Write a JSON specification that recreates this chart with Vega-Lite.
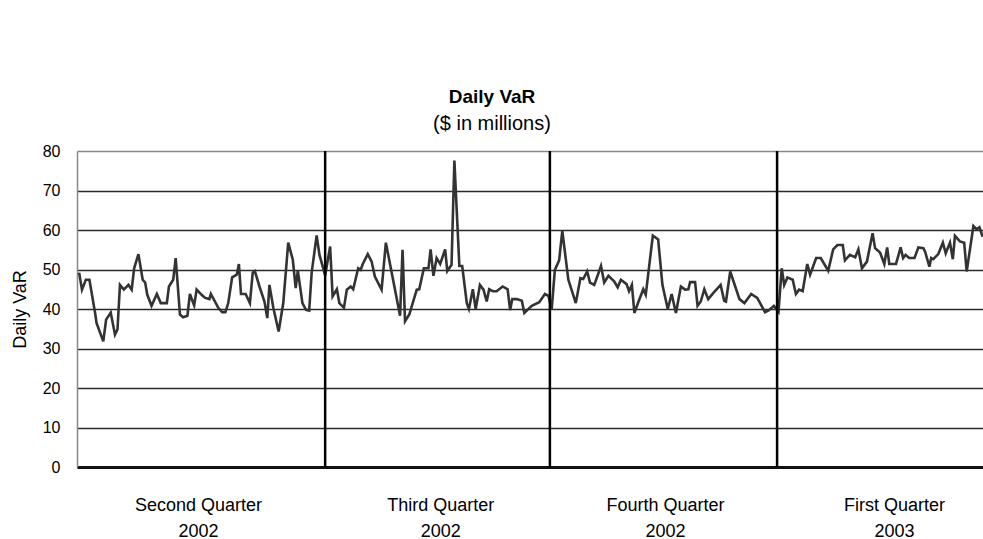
{
  "$schema": "https://vega.github.io/schema/vega-lite/v6.json",
  "autosize": {"type": "none"},
  "padding": {"left": 77, "top": 151, "right": 0, "bottom": 72},
  "width": 906,
  "height": 316,
  "background": "white",
  "title": {
    "text": "Daily VaR",
    "subtitle": "($ in millions)",
    "anchor": "middle",
    "dx": -38,
    "offset": 9,
    "font": "Liberation Sans",
    "fontSize": 19,
    "fontWeight": "bold",
    "color": "#000000",
    "subtitleFont": "Liberation Sans",
    "subtitleFontSize": 20,
    "subtitleColor": "#000000",
    "subtitlePadding": 7
  },
  "datasets": {
    "var": [
      {"d":0.6,"v":49.2},{"d":1.4,"v":44.9},{"d":2.5,"v":47.4},{"d":3.5,"v":47.4},{"d":5.1,"v":39.0},{"d":5.5,"v":36.5},{"d":7.4,"v":31.8},{"d":8.2,"v":37.3},{"d":9.5,"v":39.1},{"d":10.7,"v":33.5},{"d":11.4,"v":34.8},{"d":12.1,"v":46.1},{"d":13.2,"v":44.9},{"d":14.5,"v":46.1},{"d":15.4,"v":44.9},{"d":16.1,"v":50.3},{"d":17.3,"v":53.9},{"d":18.5,"v":47.4},{"d":19.2,"v":46.7},{"d":19.8,"v":43.6},{"d":21.0,"v":40.8},{"d":22.5,"v":43.8},{"d":23.6,"v":41.5},{"d":25.3,"v":41.5},{"d":25.9,"v":45.7},{"d":27.1,"v":47.4},{"d":27.8,"v":52.9},{"d":29.0,"v":38.6},{"d":29.9,"v":37.9},{"d":31.1,"v":38.3},{"d":31.8,"v":43.8},{"d":33.0,"v":40.9},{"d":33.7,"v":44.9},{"d":35.1,"v":43.6},{"d":36.1,"v":42.8},{"d":37.3,"v":42.5},{"d":37.7,"v":43.8},{"d":38.6,"v":42.3},{"d":39.8,"v":40.3},{"d":40.9,"v":39.2},{"d":41.8,"v":39.2},{"d":42.6,"v":41.5},{"d":43.7,"v":48.0},{"d":45.0,"v":48.7},{"d":45.6,"v":51.4},{"d":46.2,"v":43.8},{"d":47.5,"v":43.8},{"d":48.7,"v":41.5},{"d":49.5,"v":49.2},{"d":50.1,"v":49.6},{"d":51.4,"v":45.7},{"d":52.8,"v":41.9},{"d":53.6,"v":37.7},{"d":54.2,"v":46.1},{"d":55.3,"v":40.3},{"d":56.8,"v":34.3},{"d":58.1,"v":41.5},{"d":59.5,"v":56.8},{"d":60.8,"v":52.4},{"d":61.6,"v":45.3},{"d":62.2,"v":49.7},{"d":63.5,"v":41.5},{"d":64.5,"v":39.8},{"d":65.4,"v":39.6},{"d":66.1,"v":49.2},{"d":67.5,"v":58.6},{"d":68.3,"v":53.7},{"d":69.9,"v":48.5},{"d":71.3,"v":55.8},
      {"d":72.0,"v":43.2},{"d":73.2,"v":45.0},{"d":73.9,"v":41.5},{"d":75.2,"v":40.3},{"d":76.0,"v":44.9},{"d":77.1,"v":45.7},{"d":77.8,"v":45.0},{"d":79.2,"v":50.3},{"d":79.9,"v":49.9},{"d":80.5,"v":51.4},{"d":81.9,"v":53.9},{"d":83.0,"v":52.0},{"d":83.9,"v":48.2},{"d":85.8,"v":44.9},{"d":87.0,"v":56.8},{"d":91.0,"v":38.3},{"d":91.7,"v":55.0},{"d":92.4,"v":36.9},{"d":93.6,"v":38.6},{"d":95.7,"v":44.9},{"d":96.4,"v":45.0},{"d":97.7,"v":50.3},{"d":99.0,"v":50.3},{"d":99.6,"v":55.1},{"d":100.4,"v":48.4},{"d":101.3,"v":52.9},{"d":102.3,"v":51.4},{"d":103.7,"v":55.1},{"d":104.3,"v":49.6},{"d":105.5,"v":51.2},{"d":106.3,"v":77.6},{"d":107.7,"v":50.9},{"d":108.5,"v":50.9},{"d":109.8,"v":41.5},{"d":110.4,"v":40.0},{"d":111.5,"v":45.0},{"d":112.3,"v":40.0},{"d":113.5,"v":46.1},{"d":114.5,"v":44.9},{"d":115.4,"v":41.9},{"d":116.1,"v":45.0},{"d":117.1,"v":44.5},{"d":118.2,"v":44.5},{"d":119.9,"v":45.7},{"d":121.3,"v":45.0},{"d":122.0,"v":39.7},{"d":122.6,"v":42.5},{"d":123.9,"v":42.5},{"d":125.3,"v":42.1},{"d":126.0,"v":39.0},{"d":128.1,"v":40.8},{"d":130.2,"v":41.7},{"d":131.8,"v":43.8},{"d":132.8,"v":43.3},{"d":133.7,"v":39.8},
      {"d":134.6,"v":49.9},{"d":135.8,"v":52.3},{"d":136.7,"v":59.8},{"d":138.4,"v":47.4},{"d":140.5,"v":41.5},{"d":141.8,"v":47.8},{"d":142.6,"v":47.6},{"d":143.7,"v":49.5},{"d":144.5,"v":46.7},{"d":145.7,"v":46.1},{"d":147.6,"v":50.9},{"d":148.5,"v":46.7},{"d":149.7,"v":48.4},{"d":151.3,"v":47.0},{"d":152.3,"v":45.5},{"d":153.2,"v":47.4},{"d":154.8,"v":46.3},{"d":155.5,"v":44.5},{"d":156.3,"v":46.1},{"d":157.0,"v":39.0},{"d":158.1,"v":41.7},{"d":159.5,"v":45.0},{"d":160.2,"v":43.6},{"d":162.2,"v":58.6},{"d":163.7,"v":57.6},{"d":164.9,"v":46.1},{"d":166.4,"v":40.0},{"d":167.5,"v":43.8},{"d":168.7,"v":39.0},{"d":170.1,"v":45.7},{"d":171.3,"v":44.9},{"d":172.2,"v":45.0},{"d":172.7,"v":46.8},{"d":174.1,"v":46.8},{"d":174.8,"v":40.8},{"d":175.7,"v":41.9},{"d":176.7,"v":45.0},{"d":177.8,"v":42.5},{"d":179.2,"v":44.0},{"d":181.3,"v":46.1},{"d":182.3,"v":42.1},{"d":182.8,"v":41.9},{"d":184.0,"v":49.5},{"d":186.6,"v":42.5},{"d":188.0,"v":41.5},{"d":189.9,"v":43.8},{"d":191.6,"v":42.8},{"d":193.8,"v":39.2},{"d":194.9,"v":39.7},{"d":196.3,"v":40.8},{"d":197.6,"v":39.3},
      {"d":198.5,"v":50.3},{"d":199.2,"v":46.1},{"d":200.1,"v":48.0},{"d":201.6,"v":47.4},{"d":202.5,"v":43.8},{"d":203.4,"v":44.9},{"d":204.4,"v":44.5},{"d":205.7,"v":51.4},{"d":206.5,"v":48.7},{"d":208.2,"v":52.9},{"d":209.5,"v":52.9},{"d":211.6,"v":49.7},{"d":213.0,"v":55.1},{"d":214.2,"v":56.2},{"d":215.7,"v":56.2},{"d":216.3,"v":52.3},{"d":217.7,"v":53.7},{"d":219.2,"v":53.1},{"d":220.1,"v":55.1},{"d":221.1,"v":50.3},{"d":222.5,"v":52.0},{"d":224.1,"v":59.2},{"d":224.8,"v":55.4},{"d":226.2,"v":54.3},{"d":227.4,"v":51.4},{"d":228.2,"v":55.6},{"d":228.8,"v":51.4},{"d":230.7,"v":51.4},{"d":232.0,"v":55.6},{"d":232.7,"v":52.9},{"d":233.4,"v":53.7},{"d":234.4,"v":52.9},{"d":235.9,"v":52.9},{"d":237.0,"v":55.6},{"d":238.4,"v":55.4},{"d":238.9,"v":54.5},{"d":240.1,"v":50.7},{"d":240.6,"v":52.9},{"d":241.2,"v":52.6},{"d":242.6,"v":53.9},{"d":243.9,"v":56.8},{"d":244.7,"v":54.1},{"d":245.9,"v":56.8},{"d":246.7,"v":52.6},{"d":247.3,"v":58.5},{"d":248.7,"v":57.1},{"d":249.9,"v":56.8},{"d":250.6,"v":49.5},{"d":252.5,"v":61.0},{"d":253.4,"v":60.2},{"d":254.2,"v":60.7},{"d":255.1,"v":58.3}
    ],
    "quarters": [
      {"d": 69.9},
      {"d": 133.2},
      {"d": 197.2}
    ]
  },
  "layer": [
    {
      "data": {"name": "var"},
      "mark": {"type": "line", "color": "#333333", "strokeWidth": 2.6, "strokeJoin": "miter", "clip": true},
      "encoding": {
        "x": {
          "field": "d",
          "type": "quantitative",
          "scale": {"domain": [0, 255.2], "nice": false, "zero": false},
          "axis": {
            "title": null,
            "values": [34.1, 102.3, 165.6, 230.1],
            "labelExpr": "datum.value < 60 ? ['Second Quarter', '2002'] : datum.value < 130 ? ['Third Quarter', '2002'] : datum.value < 200 ? ['Fourth Quarter', '2002'] : ['First Quarter', '2003']",
            "ticks": false,
            "grid": false,
            "domain": true,
            "domainColor": "#111111",
            "domainWidth": 3,
            "labelFont": "Liberation Sans",
            "labelFontSize": 18,
            "labelColor": "#000000",
            "labelBaseline": "top",
            "labelLineHeight": 26,
            "labelPadding": 29,
            "labelFlush": false,
            "labelOverlap": false,
            "labelBound": false
          }
        },
        "y": {
          "field": "v",
          "type": "quantitative",
          "scale": {"domain": [0, 80], "nice": false, "zero": true},
          "axis": {
            "title": "Daily VaR",
            "values": [0, 10, 20, 30, 40, 50, 60, 70, 80],
            "ticks": false,
            "tickSize": 0,
            "grid": true,
            "gridColor": {"condition": {"test": "datum.value === 80", "value": "#888888"}, "value": "#2a2a2a"},
            "gridWidth": 1.5,
            "gridOpacity": 1,
            "domain": true,
            "domainColor": "#888888",
            "domainWidth": 1.5,
            "labelFont": "Liberation Sans",
            "labelFontSize": 16,
            "labelColor": "#000000",
            "labelPadding": 17,
            "titleFont": "Liberation Sans",
            "titleFontSize": 18,
            "titleFontWeight": "normal",
            "titleColor": "#000000",
            "titlePadding": 13
          }
        }
      }
    },
    {
      "data": {"name": "quarters"},
      "mark": {"type": "rule", "color": "#000000", "strokeWidth": 2.5},
      "encoding": {
        "x": {"field": "d", "type": "quantitative"}
      }
    }
  ],
  "config": {
    "view": {"stroke": null},
    "font": "Liberation Sans"
  }
}
